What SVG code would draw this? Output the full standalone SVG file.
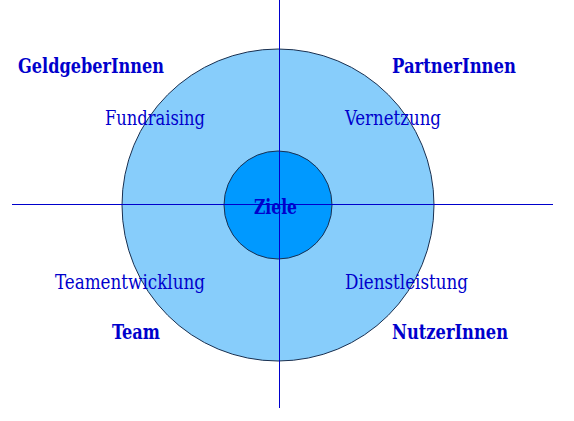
<svg xmlns="http://www.w3.org/2000/svg" width="574" height="421" viewBox="0 0 574 421">
<style>
.t{font-family:"DejaVu Serif Condensed","DejaVu Serif",serif;font-size:20px;fill:#0000cc}
.b{font-family:"DejaVu Serif Condensed","DejaVu Serif",serif;font-size:20px;font-weight:bold;fill:#0000cc}
.ax{fill:#0000cc}
</style>
<rect width="574" height="421" fill="#ffffff"/>
<g id="outer"><circle cx="278" cy="205" r="156" fill="#87cdfb" stroke="#1a3050" stroke-width="1"/></g>
<g id="inner"><circle cx="278" cy="205" r="54" fill="#0099ff" stroke="#1a3050" stroke-width="1"/></g>
<g id="connectors">
<rect class="ax" x="279" y="0" width="1" height="408"/>
<rect class="ax" x="12" y="204" width="541" height="1"/>
</g>
<g id="ziele"><text class="b" x="254" y="214" textLength="43" lengthAdjust="spacingAndGlyphs">Ziele</text></g>
<g id="geldgeber"><text class="b" x="18" y="73" textLength="146" lengthAdjust="spacingAndGlyphs">GeldgeberInnen</text></g>
<g id="partner"><text class="b" x="392" y="73" textLength="124" lengthAdjust="spacingAndGlyphs">PartnerInnen</text></g>
<g id="team"><text class="b" x="112" y="339" textLength="48" lengthAdjust="spacingAndGlyphs">Team</text></g>
<g id="nutzer"><text class="b" x="392" y="339" textLength="116" lengthAdjust="spacingAndGlyphs">NutzerInnen</text></g>
<g id="fundraising"><text class="t" x="105" y="125" textLength="100" lengthAdjust="spacingAndGlyphs">Fundraising</text></g>
<g id="vernetzung"><text class="t" x="345" y="125" textLength="96" lengthAdjust="spacingAndGlyphs">Vernetzung</text></g>
<g id="teamentwicklung"><text class="t" x="55" y="289" textLength="150" lengthAdjust="spacingAndGlyphs">Teamentwicklung</text></g>
<g id="dienstleistung"><text class="t" x="345" y="289" textLength="123" lengthAdjust="spacingAndGlyphs">Dienstleistung</text></g>
</svg>
